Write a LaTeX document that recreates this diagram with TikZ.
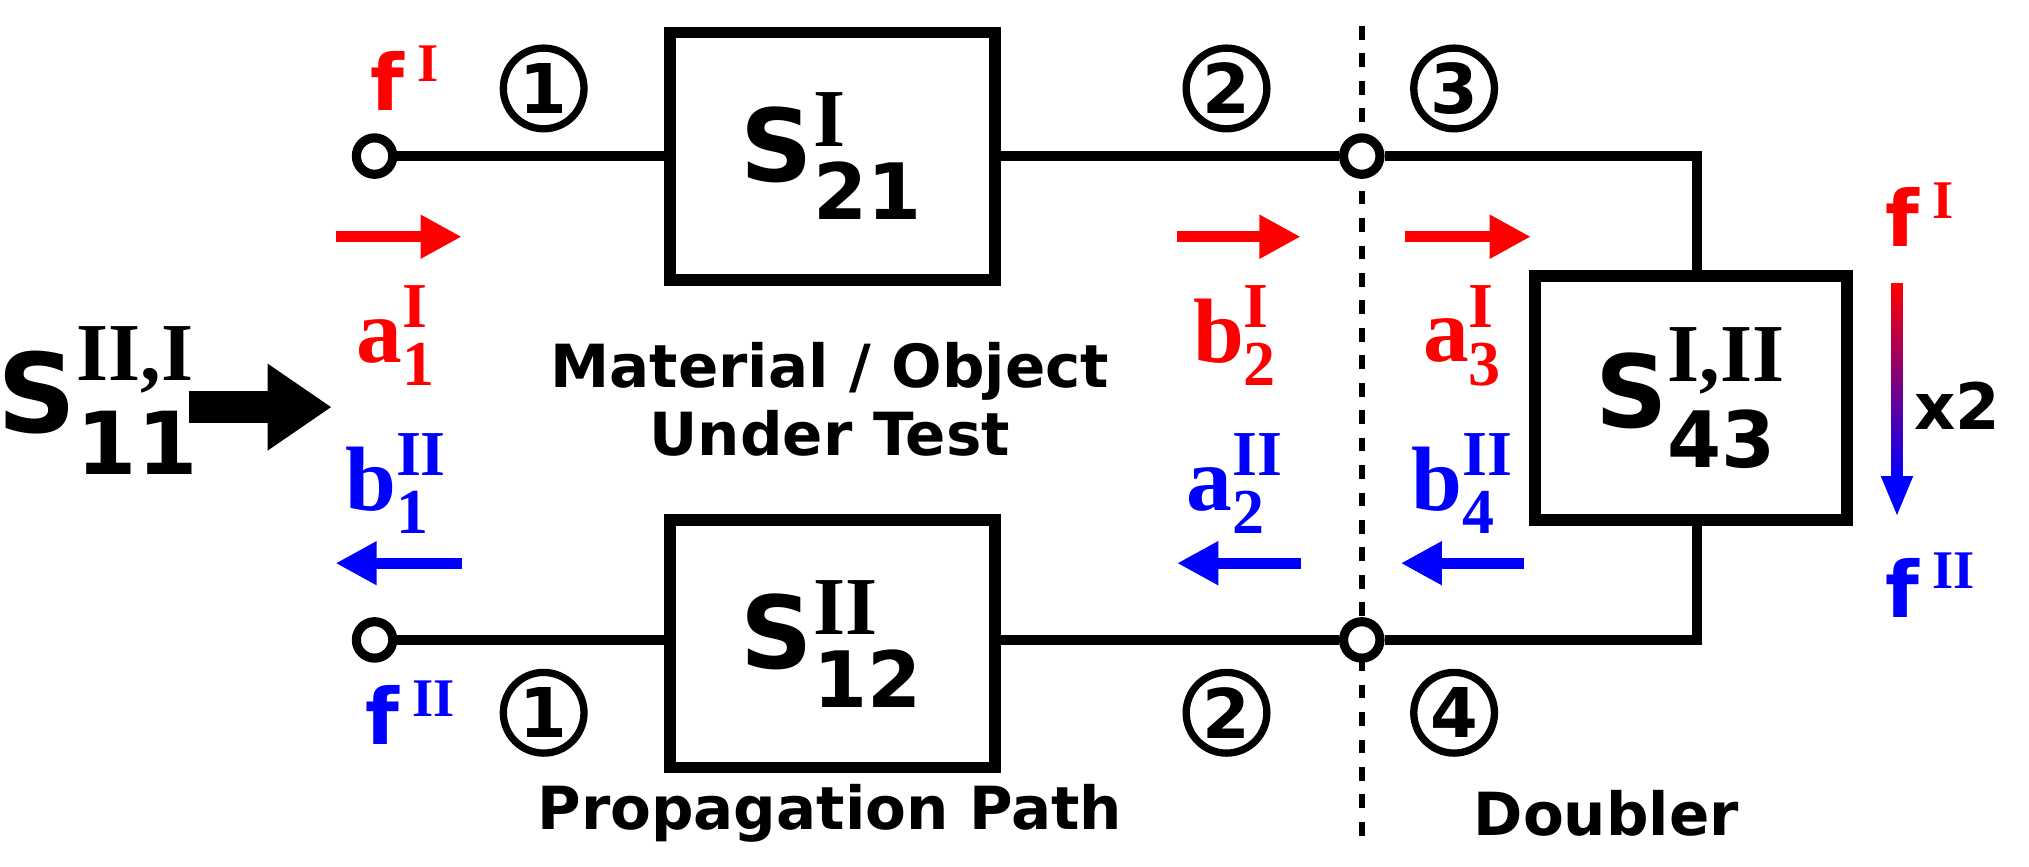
\documentclass[tikz,border=0pt]{standalone}
\usepackage{amsmath}
\usepackage{fontspec}
\setmainfont{DejaVu Sans}
\newfontfamily\ser{Liberation Serif}
\usetikzlibrary{arrows.meta}
\begin{document}
\begin{tikzpicture}[x=0.01cm,y=-0.01cm,
 ln/.style={line width=2.2pt},
 bx/.style={line width=2.6pt,draw,minimum width=2.5cm,minimum height=1.9cm},
 port/.style={circle,draw,line width=2pt,fill=white,minimum size=0.28cm,inner sep=0},
 num/.style={circle,draw,line width=1.6pt,minimum size=0.62cm,inner sep=0,font=\bfseries\fontsize{15}{15}\selectfont},
 lbl/.style={font=\ser\bfseries\fontsize{20}{20}\selectfont},
 txt/.style={font=\bfseries\fontsize{13}{15}\selectfont,align=center},
 fr/.style={font=\bfseries\fontsize{17}{17}\selectfont},
 sa/.style={line width=2.4pt,-{Triangle[length=9pt,width=9pt]}}]
\useasboundingbox (0,0) rectangle (1560,666);
\definecolor{rd}{RGB}{255,0,0}\definecolor{bl}{RGB}{0,0,255}
\draw[dashed,line width=1.2pt] (1047,20) -- (1047,645);
\node[bx] (b1) at (640,120) {\fontsize{22}{22}\selectfont\bfseries S$^{\text{\ser\bfseries\fontsize{18}{18}\selectfont I}}_{\text{\fontsize{17}{17}\selectfont 21}}$};
\node[bx] (b2) at (640,495) {\fontsize{22}{22}\selectfont\bfseries S$^{\text{\ser\bfseries\fontsize{18}{18}\selectfont II}}_{\text{\fontsize{17}{17}\selectfont 12}}$};
\node[bx,minimum width=2.4cm,minimum height=1.88cm] (b3) at (1300,306) {\fontsize{22}{22}\selectfont\bfseries S$^{\text{\ser\bfseries\fontsize{18}{18}\selectfont I,II}}_{\text{\fontsize{17}{17}\selectfont 43}}$};
\node[port] (p1) at (288,120) {};
\node[port] (p2) at (288,492) {};
\node[port] (p3) at (1047,120) {};
\node[port] (p4) at (1047,492) {};
\coordinate (c1) at (1305,120); \coordinate (c2) at (1305,492);
\draw[ln] (p1) -- (p1-|b1.west);
\draw[ln] (b1.east|-p3) -- (p3);
\draw[ln] (p3) -- (c1) -- (c1|-b3.north);
\draw[ln] (p2) -- (p2-|b2.west);
\draw[ln] (b2.east|-p4) -- (p4);
\draw[ln] (p4) -- (c2) -- (c2|-b3.south);
\node[num] (n1) at (418,68) {1};
\node[num] (n2) at (943,68) {2};
\node[num] (n3) at (1118,68) {3};
\node[num] (n4) at (418,548) {1};
\node[num] (n5) at (943,548) {2};
\node[num] (n6) at (1118,548) {4};
\node[fr,text=rd] (f1) at (312,60) {f\,$^{\text{\ser I}}$};
\node[fr,text=bl] (f2) at (316,548) {f\,$^{\text{\ser II}}$};
\node[fr,text=rd] (f3) at (1477,165) {f\,$^{\text{\ser I}}$};
\node[fr,text=bl] (f4) at (1485,450) {f\,$^{\text{\ser II}}$};
\node[font=\bfseries\fontsize{14}{14}\selectfont] (x2) at (1505,312) {x2};
\foreach \xa/\xb/\n in {258/355/ra1,905/1000/ra2,1080/1177/ra3}{
 \coordinate (\n s) at (\xa,182); \coordinate (\n e) at (\xb,182);
 \draw[sa,rd] (\n s) -- (\n e);}
\foreach \xa/\xb/\n in {355/258/ba1,1000/905/ba2,1172/1077/ba3}{
 \coordinate (\n s) at (\xa,433); \coordinate (\n e) at (\xb,433);
 \draw[sa,bl] (\n s) -- (\n e);}
\node[lbl,text=rd] (la1) at (305,258) {a$^{\text{I}}_{\text{1}}$};
\node[lbl,text=rd] (lb2) at (950,258) {b$^{\text{I}}_{\text{2}}$};
\node[lbl,text=rd] (la3) at (1125,258) {a$^{\text{I}}_{\text{3}}$};
\node[lbl,text=bl] (lb1) at (305,372) {b$^{\text{II}}_{\text{1}}$};
\node[lbl,text=bl] (la2) at (950,372) {a$^{\text{II}}_{\text{2}}$};
\node[lbl,text=bl] (lb4) at (1125,372) {b$^{\text{II}}_{\text{4}}$};
\node (s11) at (76,308) {\fontsize{24}{24}\selectfont\bfseries S$^{\text{\ser\bfseries\fontsize{18}{18}\selectfont II,I}}_{\text{\fontsize{19}{19}\selectfont 11}}$};
\coordinate (ka) at (145,313); \coordinate (kb) at (255,313);
\draw[line width=7pt,-{Triangle[length=14pt,width=18pt]}] (ka) -- (kb);
\shade[top color=rd,bottom color=bl] (1454,218) rectangle (1463,368);
\fill[bl] (1446,366) -- (1471,366) -- (1458.5,396) -- cycle;
\node[txt] (t1) at (638,307) {Material / Object\\Under Test};
\node[txt] (t2) at (638,625) {Propagation Path};
\node[txt] (t3) at (1235,625) {Doubler};
\end{tikzpicture}
\end{document}
